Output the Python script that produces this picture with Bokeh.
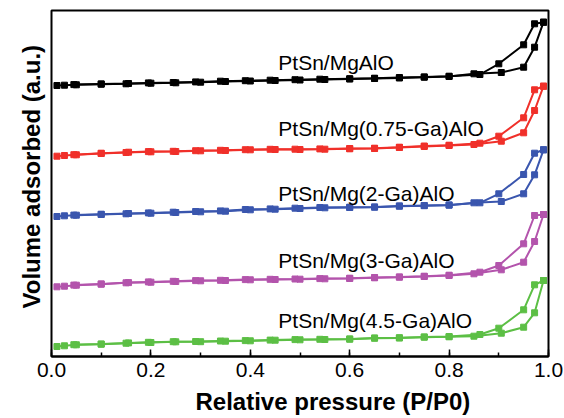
import math
from bokeh.plotting import figure
from bokeh.models import Range1d, SingleIntervalTicker, PrintfTickFormatter, Label, Title
from bokeh.embed import file_html
from bokeh.resources import INLINE

# ---------------- data (arbitrary units) ----------------
ads_x = [0.011, 0.026, 0.05, 0.10, 0.15, 0.20, 0.25, 0.30, 0.35, 0.40, 0.45, 0.50,
         0.55, 0.60, 0.65, 0.70, 0.75, 0.80, 0.85, 0.905, 0.95, 0.972, 0.99]
des_x = [0.99, 0.972, 0.95, 0.90, 0.862, 0.80, 0.75, 0.70, 0.65, 0.60, 0.54, 0.49,
         0.44, 0.39, 0.34, 0.29, 0.245, 0.195, 0.155, 0.10, 0.045]

mgalo_ads = [271, 271.3, 271.7, 272.3, 272.7, 273.3, 273.7, 274.3, 275, 275.5, 276, 276.5,
             277, 277.5, 278, 278.5, 279.3, 280, 282.7, 284, 289.3, 309.3, 334.3]
mgalo_des = [334.3, 332.7, 311.7, 292.7, 282, 280.3, 279.6, 279, 278.3, 277.8, 277.3, 276.8,
             276.3, 275.8, 275.3, 274.6, 274, 273.6, 273, 272.6, 271.9]

ga075_ads = [200.3, 201, 201.7, 203, 204, 204.7, 205, 205.7, 206, 206.7, 207, 207,
             207.3, 207.7, 208, 209, 210, 211, 212, 215.3, 223.7, 246, 270.3]
ga075_des = [270.3, 266.7, 238.7, 220.3, 213.3, 211.3, 210.5, 209.3, 208.3, 208, 207.6, 207.3,
             207.2, 206.8, 206.2, 205.8, 205.2, 204.9, 204.3, 203.3, 201.8]

ga2_ads = [140, 140.7, 141.3, 142, 142.7, 143.3, 144, 144.7, 145.3, 146.7, 147.3, 148,
           148.7, 149, 149.3, 150.3, 150.8, 151.3, 153.7, 155, 162.7, 181.7, 206.7]
ga2_des = [206.7, 203.3, 182, 162.7, 153.7, 151.6, 151, 150.6, 149.6, 149.3, 149, 148.3,
           147.6, 147, 145.6, 145, 144.3, 143.6, 143, 142.3, 141.4]

ga3_ads = [69.7, 70.3, 71.3, 72.3, 73.7, 74.3, 75, 75.7, 76, 76.7, 77, 77.3,
           77.7, 78, 78.7, 79.3, 80, 81, 82.7, 86.7, 94.3, 115, 142]
ga3_des = [142, 141, 112.7, 91, 84.3, 81.3, 80.3, 79.6, 79, 78.3, 77.9, 77.5,
           77.2, 76.9, 76.2, 75.9, 75.2, 74.6, 73.9, 72.6, 71.4]

ga45_ads = [10, 10.7, 11.7, 12.3, 13.3, 14, 14.7, 14.8, 15.3, 15.7, 16.3, 16.7,
            17, 17.3, 18.3, 18.5, 19.3, 19.7, 20.3, 23.3, 29.3, 43.7, 76]
ga45_des = [76, 71.7, 46.7, 28.3, 22, 20, 19.6, 18.8, 18.5, 17.6, 17.2, 16.9,
            16.4, 15.9, 15.5, 15, 14.8, 14.2, 13.6, 12.5, 11.8]

names = ["PtSn/MgAlO", "PtSn/Mg(0.75-Ga)AlO", "PtSn/Mg(2-Ga)AlO",
         "PtSn/Mg(3-Ga)AlO", "PtSn/Mg(4.5-Ga)AlO"]
ads_sets = [mgalo_ads, ga075_ads, ga2_ads, ga3_ads, ga45_ads]
des_sets = [mgalo_des, ga075_des, ga2_des, ga3_des, ga45_des]
colors = ["#000000", "#F0302A", "#3A56AE", "#B354AC", "#5CBF45"]
label_x = [0.4564, 0.4564, 0.4564, 0.4564, 0.4564]
label_y = [294, 228, 163, 96, 36.5]

xticks_interval = 0.2
x_title = "Relative pressure (P/P0)"
y_title = "Volume adsorbed (a.u.)"

FONT = "Liberation Sans"

p = figure(frame_width=497, frame_height=346, output_backend="svg",
           toolbar_location=None, x_range=Range1d(0, 1), y_range=Range1d(0, 346),
           min_border_left=51, min_border_right=16, min_border_top=10,
           min_border_bottom=62)
p.title.visible = False
p.background_fill_color = "white"
p.border_fill_color = "white"
p.outline_line_color = "black"
p.outline_line_width = 2
p.xgrid.visible = False
p.ygrid.visible = False
p.yaxis.visible = False

ax = p.xaxis[0]
ax.ticker = SingleIntervalTicker(interval=xticks_interval, num_minor_ticks=2)
ax.formatter = PrintfTickFormatter(format="%.1f")
ax.axis_line_color = "black"
ax.axis_line_width = 2
ax.major_tick_in = 7
ax.major_tick_out = 0
ax.minor_tick_in = 4
ax.minor_tick_out = 0
ax.major_tick_line_color = "black"
ax.minor_tick_line_color = "black"
ax.major_tick_line_width = 1.5
ax.minor_tick_line_width = 1.5
ax.major_label_text_font = FONT
ax.major_label_text_font_size = "21px"
ax.major_label_text_color = "black"
ax.major_label_standoff = 6

for name, a, d, c, lx, ly in zip(names, ads_sets, des_sets, colors, label_x, label_y):
    p.line(ads_x, a, line_color=c, line_width=2)
    p.line(des_x, d, line_color=c, line_width=2)
    p.scatter(ads_x, a, marker="square", size=6, fill_color=c, line_color=c)
    p.scatter(des_x, d, marker="square", size=6, fill_color=c, line_color=c)
    p.add_layout(Label(x=lx, y=ly, text=name, text_font=FONT, text_font_size="21px",
                       text_color="black", text_align="left", text_baseline="alphabetic"))

p.add_layout(Title(text=x_title, align="left", offset=144, standoff=12,
                   text_font=FONT, text_font_size="24px", text_font_style="bold",
                   text_color="black"), "below")
p.add_layout(Title(text=y_title, align="left", offset=48, standoff=14,
                   text_font=FONT, text_font_size="24px", text_font_style="bold",
                   text_color="black"), "left")

open("out.html", "w").write(file_html(p, INLINE))
